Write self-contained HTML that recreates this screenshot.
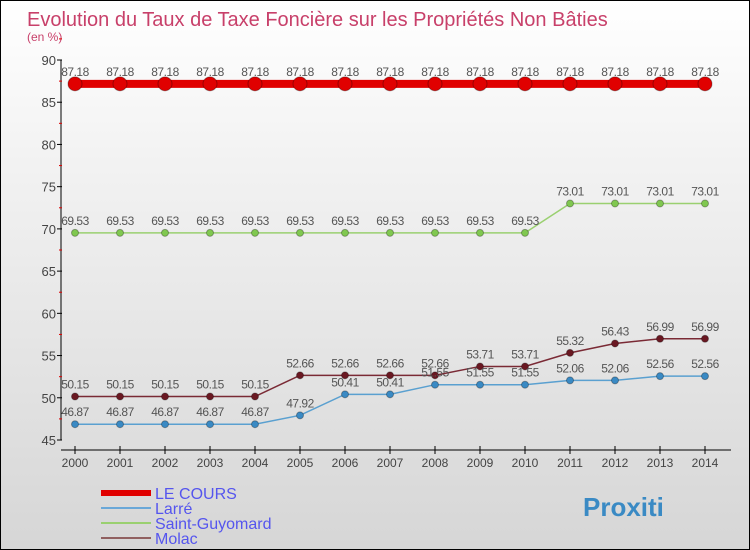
<!DOCTYPE html>
<html><head><meta charset="utf-8"><style>
body{margin:0}
#c{width:748px;height:548px;border:1px solid #000;background:linear-gradient(#fff,#f2f2f2 30%,#d6d6d6);position:relative;overflow:hidden;font-family:"Liberation Sans",sans-serif}
</style></head><body>
<div id="c">
<svg width="748" height="548" id="s">
<text x="26" y="25" font-size="20" fill="#c8406a">Evolution du Taux de Taxe Foncière sur les Propriétés Non Bâties</text>
<text x="26" y="40" font-size="12" fill="#c8406a">(en %)</text>
</svg>
</div>
<script>
const years=[2000,2001,2002,2003,2004,2005,2006,2007,2008,2009,2010,2011,2012,2013,2014];
const leCours=[87.18,87.18,87.18,87.18,87.18,87.18,87.18,87.18,87.18,87.18,87.18,87.18,87.18,87.18,87.18];
const larre=[46.87,46.87,46.87,46.87,46.87,47.92,50.41,50.41,51.55,51.55,51.55,52.06,52.06,52.56,52.56];
const saintGuyomard=[69.53,69.53,69.53,69.53,69.53,69.53,69.53,69.53,69.53,69.53,69.53,73.01,73.01,73.01,73.01];
const molac=[50.15,50.15,50.15,50.15,50.15,52.66,52.66,52.66,52.66,53.71,53.71,55.32,56.43,56.99,56.99];
const yTicks=[45,50,55,60,65,70,75,80,85,90];
const NS="http://www.w3.org/2000/svg",s=document.getElementById('s');
const X=i=>74+i*45, Y=v=>59+(90-v)*380/45;
function el(t,a,p){const e=document.createElementNS(NS,t);for(const k in a)e.setAttribute(k,a[k]);(p||s).appendChild(e);return e;}
const ax=el('g',{});


el('line',{x1:60,y1:Y(90),x2:60,y2:Y(45),stroke:'#000'},ax);
el('line',{x1:60,y1:449,x2:730,y2:449,stroke:'#000'},ax);
yTicks.forEach(v=>{
 el('line',{x1:56,y1:Y(v),x2:61,y2:Y(v),stroke:'#000'},ax);
 el('line',{x1:58,y1:Y(v+2.5),x2:61,y2:Y(v+2.5),stroke:'#d00'},ax);
 const t=el('text',{x:55,y:Y(v)+5,'font-size':13,fill:'#444','text-anchor':'end'},ax);t.textContent=v;
 
 
});
years.forEach((yr,i)=>{
 el('line',{x1:X(i),y1:445,x2:X(i),y2:453,stroke:'#000'},ax);
 const t=el('text',{x:X(i),y:466,'font-size':12,fill:'#444','text-anchor':'middle'},ax);t.textContent=yr;
 
 
});
function series(name,data,color,dot,w,r){
 const g=el('g',{});
 
 
 el('polyline',{points:data.map((v,i)=>X(i)+','+Y(v)).join(' '),fill:'none',stroke:color,'stroke-width':w},g);
 data.forEach((v,i)=>{
  const c=el('circle',{cx:X(i),cy:Y(v),r:r,fill:dot,stroke:'rgba(0,0,0,0.3)'},g);
  
  
  const t=el('text',{x:X(i),y:Y(v)-8,'font-size':12,fill:'#555','text-anchor':'middle','letter-spacing':'-0.5'},g);t.textContent=v;
  
  
 });
}
series('molac',molac,'#7a2a35','#6a1822',1.5,3.5);
series('larre',larre,'#5aa0d0','#3a8ac4',1.5,3.5);
series('saint-guyomard',saintGuyomard,'#9ad070','#80c850',1.5,3.5);
series('le-cours',leCours,'#e00000','#e00000',8,7);
const lg=[['LE COURS','#e00000',6],['Larré','#6aa8d8',2],['Saint-Guyomard','#9ad070',2],['Molac','#906060',2]];
lg.forEach((l,i)=>{
 const g=el('g',{});
 
 
 const y=492+i*15;
 el('line',{x1:100,y1:y,x2:150,y2:y,stroke:l[1],'stroke-width':l[2]},g);
 const t=el('text',{x:154,y:y+6,'font-size':16,fill:'#5555ee'},g);t.textContent=l[0];
});
const p=el('text',{x:582,y:515,'font-size':26,'font-weight':'bold',fill:'#3a8ac4'});
p.textContent='Proxiti';


</script>
</body></html>
